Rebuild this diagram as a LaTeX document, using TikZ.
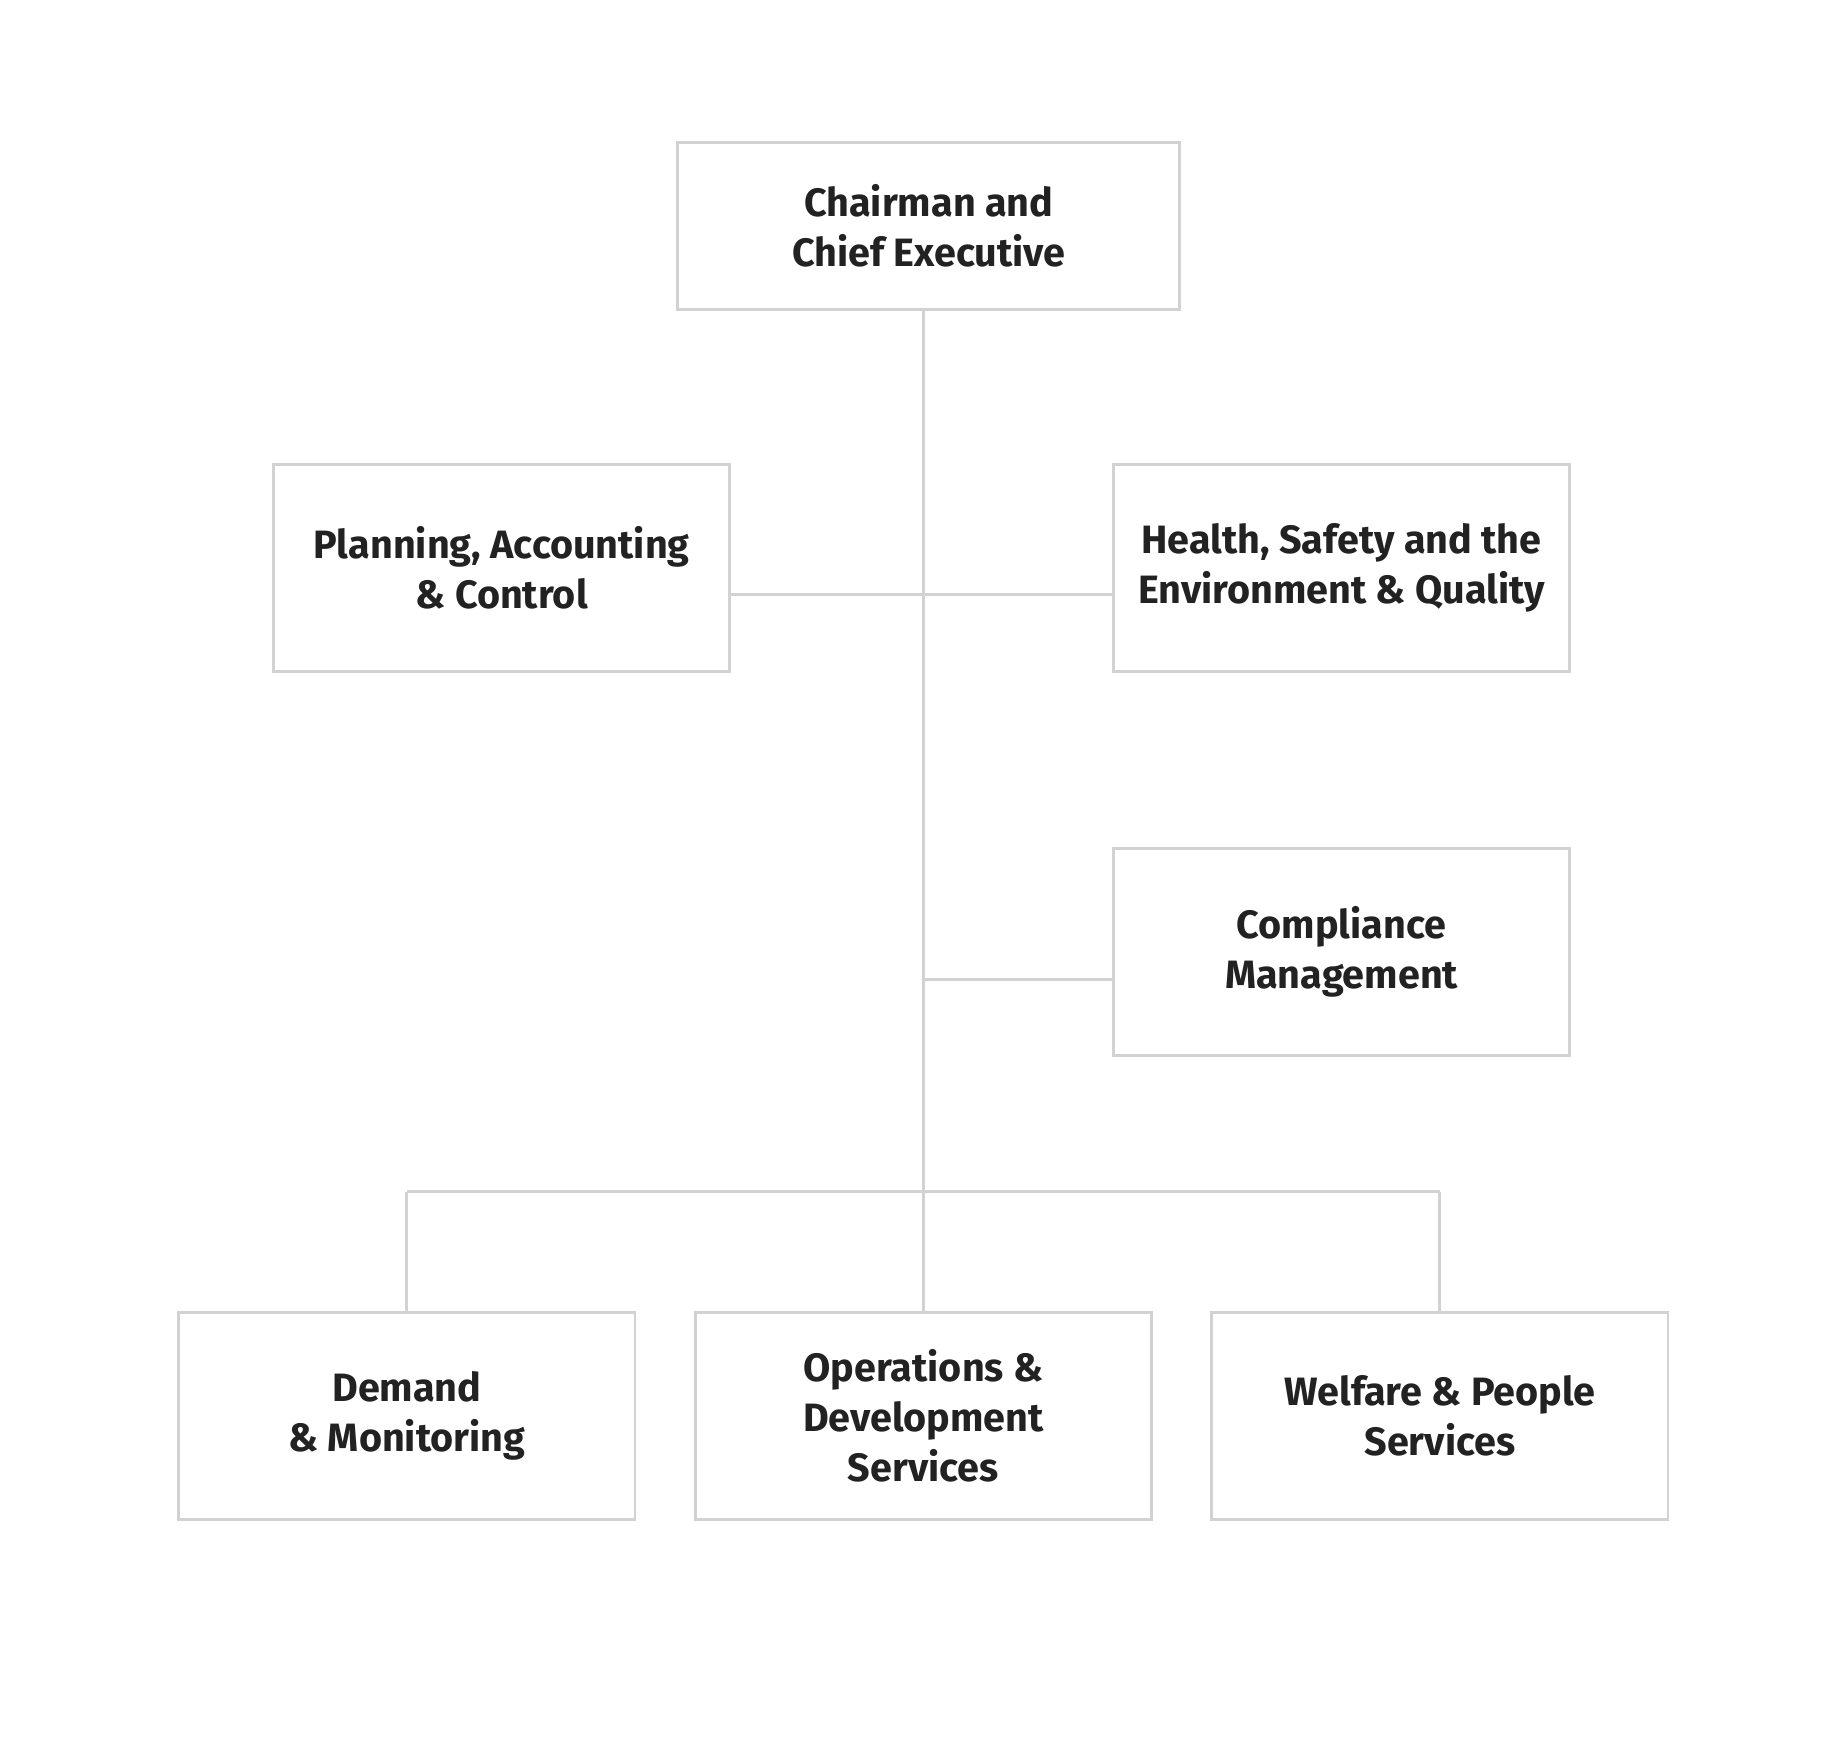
\documentclass[tikz,border=0pt]{standalone}
\usepackage{fontspec}
\setmainfont{Fira Sans}
\usetikzlibrary{positioning}
\definecolor{boxline}{HTML}{D2D2D2}
\definecolor{boxtext}{HTML}{222222}

\begin{document}
\begin{tikzpicture}
	\tikzset{unit/.style={draw=boxline, line width=0.7pt, minimum width=3.85cm, minimum height=1.75cm, align=center, text=boxtext, font=\bfseries\fontsize{9.5}{12}\selectfont}}
	\tikzset{link/.style={draw=boxline, line width=0.7pt}}
	\useasboundingbox (0,0) rectangle (15.6,-14.857);

	% Top
	\node[unit, minimum width=4.24cm, minimum height=1.41cm] (chair) at (7.84,-1.905) {Chairman and\\Chief Executive};

	% Staff units
	\node[unit] (planning) at (4.235,-4.795) {Planning, Accounting\\\& Control};
	\node[unit] (health) at (11.325,-4.795) {Health, Safety and the\\Environment \& Quality};
	\node[unit] (compliance) at (11.325,-8.035) {Compliance\\Management};

	% Divisions
	\node[unit] (demand) at (3.435,-11.955) {Demand\\\& Monitoring};
	\node[unit] (operations) at (7.795,-11.955) {Operations \&\\Development\\Services};
	\node[unit] (welfare) at (12.155,-11.955) {Welfare \& People\\Services};

	% Joints
	\coordinate (top_end) at (7.795,-2.61);
	\coordinate (staff_joint) at (7.795,-5.02);
	\coordinate (comp_joint) at (7.795,-8.27);
	\coordinate (bus_mid) at (7.795,-10.06);
	\coordinate (bus_left) at (3.435,-10.06);
	\coordinate (bus_right) at (12.155,-10.06);

	\draw[link] (top_end) -- (operations.north);
	\draw[link] (planning.east |- staff_joint) -- (health.west |- staff_joint);
	\draw[link] (comp_joint) -- (compliance.west |- comp_joint);
	\draw[link] (bus_left) -- (bus_right);
	\draw[link] (bus_left) -- (demand.north);
	\draw[link] (bus_right) -- (welfare.north);
\end{tikzpicture}
\end{document}
